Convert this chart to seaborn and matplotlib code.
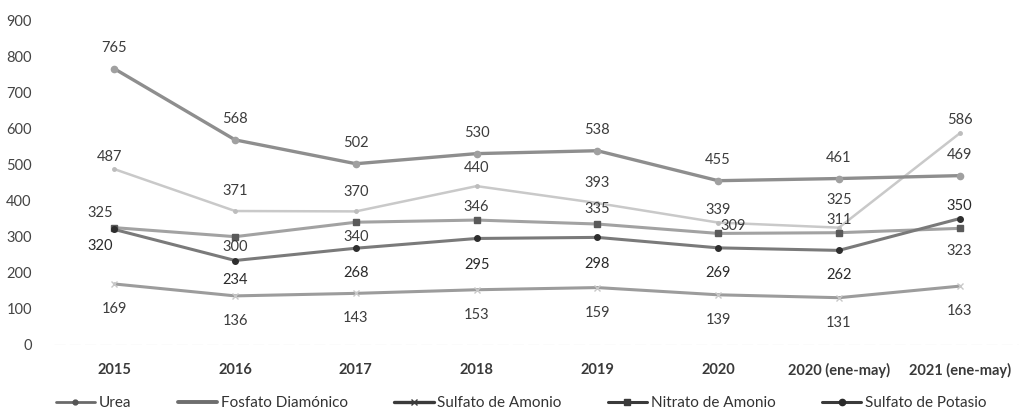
import matplotlib
matplotlib.use("Agg")
import matplotlib.pyplot as plt
import seaborn as sns
import pandas as pd
from matplotlib.lines import Line2D

# ---- data ----
categories = ["2015", "2016", "2017", "2018", "2019", "2020",
              "2020 (ene-may)", "2021 (ene-may)"]
urea = [487, 371, 370, 440, 393, 339, 325, 586]
fosfato_diamonico = [765, 568, 502, 530, 538, 455, 461, 469]
sulfato_amonio = [169, 136, 143, 153, 159, 139, 131, 163]
nitrato_amonio = [325, 300, 340, 346, 335, 309, 311, 323]
sulfato_potasio = [320, 234, 268, 295, 298, 269, 262, 350]
series_names = ["Urea", "Fosfato Diamónico", "Sulfato de Amonio",
                "Nitrato de Amonio", "Sulfato de Potasio"]
yticks = [0, 100, 200, 300, 400, 500, 600, 700, 800, 900]

# ---- styles (not data) ----
styles = {
    "Urea": dict(color="#c9c9c9", lw=1.8, marker="o", ms=2.5, mfc="#bdbdbd", mec="#bdbdbd"),
    "Fosfato Diamónico": dict(color="#8e8e8e", lw=2.4, marker="o", ms=4.5, mfc="#a0a0a0", mec="#a0a0a0"),
    "Sulfato de Amonio": dict(color="#9c9c9c", lw=2.2, marker="x", ms=4, mfc="#c0c0c0", mec="#c8c8c8"),
    "Nitrato de Amonio": dict(color="#a2a2a2", lw=2.2, marker="s", ms=4.5, mfc="#5a5a5a", mec="#5a5a5a"),
    "Sulfato de Potasio": dict(color="#7a7a7a", lw=2.2, marker="o", ms=4, mfc="#2e2e2e", mec="#2e2e2e"),
}
# legend handle styles (darker in the reference legend)
legend_styles = {
    "Urea": dict(color="#6a6a6a", lw=2.0, marker="o", ms=3.5, mfc="#555555", mec="#555555"),
    "Fosfato Diamónico": dict(color="#6e6e6e", lw=2.8, marker="o", ms=0, mfc="#6e6e6e", mec="#6e6e6e"),
    "Sulfato de Amonio": dict(color="#3a3a3a", lw=2.4, marker="x", ms=4.5, mfc="#3a3a3a", mec="#3a3a3a"),
    "Nitrato de Amonio": dict(color="#3a3a3a", lw=2.2, marker="s", ms=4, mfc="#3a3a3a", mec="#3a3a3a"),
    "Sulfato de Potasio": dict(color="#3a3a3a", lw=2.2, marker="o", ms=4.5, mfc="#2a2a2a", mec="#2a2a2a"),
}
# label offsets in pixels (dx, dy), positive dy = above
label_offsets = {
    "Urea": [(-5, 12), (0, 20), (0, 19), (0, 18), (0, 20), (0, 13), (0, 28), (0, 13)],
    "Fosfato Diamónico": [(0, 21)] * 8,
    "Sulfato de Amonio": [(0, -25)] * 8,
    "Nitrato de Amonio": [(-14, 15), (0, -10), (0, -15), (0, 13), (0, 15), (15, 7), (0, 13), (0, -23)],
    "Sulfato de Potasio": [(-14, -17), (0, -19), (0, -25), (0, -27), (0, -27), (0, -25), (0, -25), (0, 13)],
}
label_colors = {
    "Urea": "#3c3c3c", "Fosfato Diamónico": "#3c3c3c", "Sulfato de Amonio": "#3c3c3c",
    "Nitrato de Amonio": "#3c3c3c", "Sulfato de Potasio": "#2a2a2a",
}

values = {
    "Urea": urea,
    "Fosfato Diamónico": fosfato_diamonico,
    "Sulfato de Amonio": sulfato_amonio,
    "Nitrato de Amonio": nitrato_amonio,
    "Sulfato de Potasio": sulfato_potasio,
}

sns.set_theme(style="white")
plt.rcParams["font.family"] = ["Lato", "DejaVu Sans"]

fig = plt.figure(figsize=(10.2, 4.18), dpi=100)
ax = fig.add_axes([54 / 1020, (418 - 345) / 418, (1020 - 54) / 1020, 325 / 418])

draw_order = ["Urea", "Sulfato de Amonio", "Nitrato de Amonio", "Sulfato de Potasio", "Fosfato Diamónico"]
for name in draw_order:
    df = pd.DataFrame({"cat": categories, "val": values[name]})
    st = styles[name]
    sns.lineplot(data=df, x="cat", y="val", ax=ax, sort=False, color=st["color"],
                 linewidth=st["lw"], marker=st["marker"], markersize=st["ms"],
                 markerfacecolor=st["mfc"], markeredgecolor=st["mec"],
                 markeredgewidth=1.0, legend=False)

for name in series_names:
    for i, v in enumerate(values[name]):
        dx, dy = label_offsets[name][i]
        ax.annotate(str(v), (i, v), xytext=(dx * 0.72, dy * 0.72), textcoords="offset points",
                    ha="center", va="center", fontsize=10.5, color=label_colors[name])

ax.set_xlim(-0.5, len(categories) - 0.5)
ax.set_ylim(0, 900)
ax.set_yticks(yticks)
ax.set_yticklabels([str(t) for t in yticks], fontsize=10.5, color="#444444")
ax.set_xticks(range(len(categories)))
ax.set_xticklabels(categories, fontsize=10.5, fontweight="bold", color="#3a3a3a")
ax.tick_params(axis="x", length=0, pad=13)
ax.tick_params(axis="y", length=0, pad=16)
ax.set_xlabel("")
ax.set_ylabel("")
for s in ax.spines.values():
    s.set_visible(False)
ax.axhline(0, color="#eeeeee", lw=1, ls=(0, (8, 3)), zorder=0)

handles = []
for name in series_names:
    st = legend_styles[name]
    handles.append(Line2D([], [], color=st["color"], lw=st["lw"], marker=st["marker"],
                          markersize=st["ms"], markerfacecolor=st["mfc"],
                          markeredgecolor=st["mec"], markeredgewidth=1.0))
fig.legend(handles, series_names, loc="center", bbox_to_anchor=(0.511, (418 - 403) / 418),
           ncol=5, frameon=False, fontsize=11, handlelength=2.6, handletextpad=0.25,
           columnspacing=3.0, labelcolor="#333333")

fig.savefig("out.png", dpi=100)
